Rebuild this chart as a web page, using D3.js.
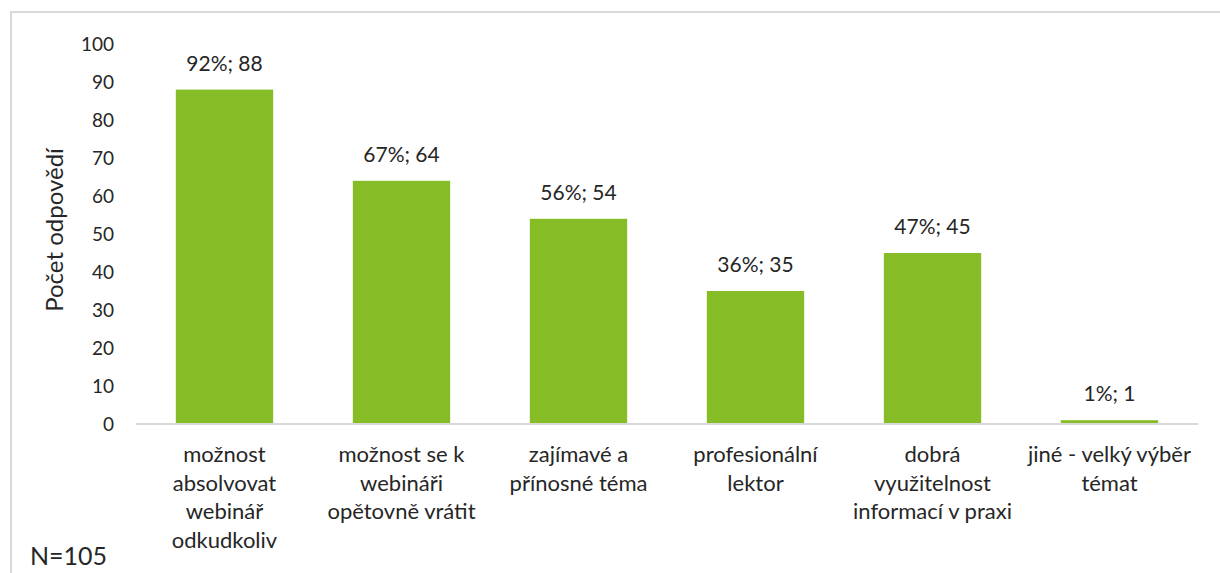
<!DOCTYPE html>
<html>
<head>
<meta charset="utf-8">
<script src="https://cdn.jsdelivr.net/npm/d3@7"></script>
<style>
  html, body { margin: 0; padding: 0; background: #ffffff; }
  svg { display: block; }
  text { font-family: Lato, "Open Sans", sans-serif; fill: #262626; }
</style>
</head>
<body>
<svg id="chart" width="1220" height="573"></svg>
<script>
const categories = [
  ["možnost", "absolvovat", "webinář", "odkudkoliv"],
  ["možnost se k", "webináři", "opětovně vrátit"],
  ["zajímavé a", "přínosné téma"],
  ["profesionální", "lektor"],
  ["dobrá", "využitelnost", "informací v praxi"],
  ["jiné - velký výběr", "témat"]
];
const counts = [88, 64, 54, 35, 45, 1];
const percents = ["92%", "67%", "56%", "36%", "47%", "1%"];
const yTicks = [0, 10, 20, 30, 40, 50, 60, 70, 80, 90, 100];
const yTitle = "Počet odpovědí";
const note = "N=105";

const svg = d3.select("#chart");
const green = "#86BC25";
const grid = "#D9D9D9";

// outer frame (partially visible)
svg.append("path")
  .attr("d", "M11,600 L11,12 L1230,12")
  .attr("fill", "none")
  .attr("stroke", grid)
  .attr("stroke-width", 2);

const x = d3.scaleBand()
  .domain(d3.range(categories.length))
  .range([136, 1198])
  .paddingInner(0.45)
  .paddingOuter(0.225);

const y = d3.scaleLinear().domain([0, 100]).range([424, 44]);

// y axis labels
const yAxis = d3.axisLeft(y).tickValues(yTicks).tickSize(0).tickPadding(0);
const gy = svg.append("g").attr("transform", "translate(114,0)").call(yAxis);
gy.select(".domain").remove();
gy.selectAll("text")
  .style("font-family", "Lato, sans-serif")
  .style("font-size", "19px")
  .attr("fill", "#262626")
  .attr("dy", "0.35em");

// bars
svg.append("g").selectAll("rect")
  .data(counts)
  .join("rect")
  .attr("x", (d, i) => x(i))
  .attr("width", x.bandwidth())
  .attr("y", d => y(d))
  .attr("height", d => y(0) - y(d))
  .attr("fill", green);

// baseline
svg.append("line")
  .attr("x1", x.range()[0]).attr("x2", x.range()[1])
  .attr("y1", y(0)).attr("y2", y(0))
  .attr("stroke", grid).attr("stroke-width", 2);

// data labels
svg.append("g").selectAll("text")
  .data(counts)
  .join("text")
  .attr("x", (d, i) => x(i) + x.bandwidth() / 2)
  .attr("y", d => y(d) - 19)
  .attr("text-anchor", "middle")
  .style("font-size", "21px")
  .text((d, i) => percents[i] + "; " + d);

// category labels
const cg = svg.append("g");
categories.forEach((lines, i) => {
  const t = cg.append("text")
    .attr("x", x(i) + x.bandwidth() / 2)
    .attr("y", 462)
    .attr("text-anchor", "middle")
    .style("font-size", "22px");
  lines.forEach((ln, j) => {
    t.append("tspan")
      .attr("x", x(i) + x.bandwidth() / 2)
      .attr("y", 462 + j * 28.5)
      .text(ln);
  });
});

// y title
svg.append("text")
  .attr("transform", "translate(63,230) rotate(-90)")
  .attr("text-anchor", "middle")
  .style("font-size", "24px")
  .text(yTitle);

// note
svg.append("text")
  .attr("x", 30)
  .attr("y", 565)
  .style("font-size", "25px")
  .text(note);
</script>
</body>
</html>
